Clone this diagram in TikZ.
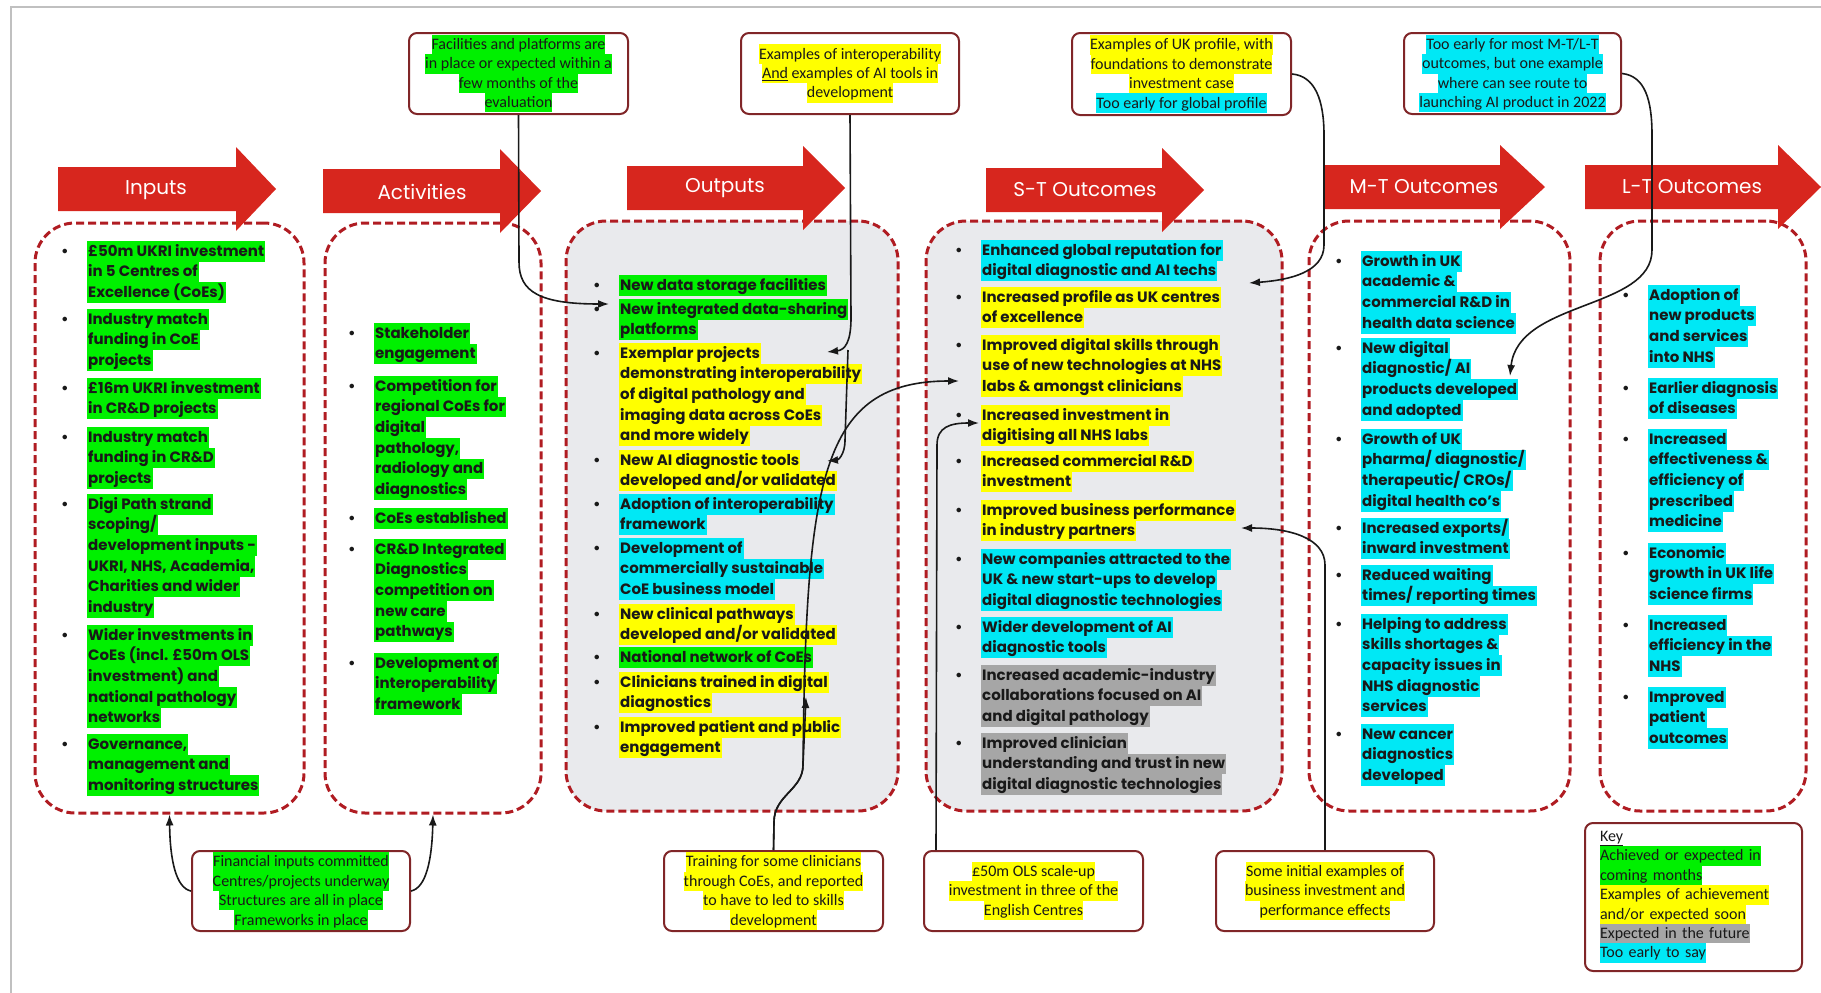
\documentclass[tikz,border=0pt]{standalone}
\usepackage{fontspec}
\setmainfont{Poppins}
\newfontfamily\cbfont{Carlito}
\usetikzlibrary{arrows.meta}

\definecolor{hlgreen}{RGB}{0,240,0}
\definecolor{hlyellow}{RGB}{255,255,0}
\definecolor{hlcyan}{RGB}{0,232,245}
\definecolor{hlgrey}{RGB}{166,166,166}
\definecolor{boxgrey}{RGB}{233,234,237}
\definecolor{dashred}{RGB}{176,28,34}
\definecolor{hdrred}{RGB}{215,38,30}
\definecolor{calred}{RGB}{128,38,40}
\definecolor{txt}{RGB}{25,25,25}
\definecolor{framegrey}{RGB}{192,192,192}

% highlighted lines: list text and callout text
\newcommand\hlb[2]{{\setlength\fboxsep{0pt}\colorbox{#1}{\rule[-5.6pt]{0pt}{20.7pt}\hspace{1pt}#2\hspace{1pt}}}}
\newcommand\hG{\hlb{hlgreen}}
\newcommand\hY{\hlb{hlyellow}}
\newcommand\hC{\hlb{hlcyan}}
\newcommand\hX{\hlb{hlgrey}}
\newcommand\hlc[2]{{\setlength\fboxsep{0pt}\colorbox{#1}{\rule[-4.8pt]{0pt}{19.4pt}#2}}}
\newcommand\cG{\hlc{hlgreen}}
\newcommand\cY{\hlc{hlyellow}}
\newcommand\cC{\hlc{hlcyan}}
\newcommand\cX{\hlc{hlgrey}}
\renewcommand\arraystretch{0}
\newcommand\bitem[1]{\makebox[26pt][l]{\textbullet}\begin{tabular}[t]{@{}l@{}}#1\end{tabular}}

\tikzset{
  dbox/.style={draw=dashred, line width=3pt, dash pattern=on 8pt off 4pt, rounded corners=40pt},
  item/.style={anchor=base west, inner sep=0pt, text=txt, font=\fontsize{15}{20.7}\selectfont\bfseries},
  hdr/.style={text=white, font=\fontsize{20}{24}\selectfont},
  callout/.style={draw=calred, line width=2pt, rounded corners=8pt, fill=white, align=center, inner sep=0pt,
    text=txt, font=\cbfont\fontsize{16}{19.4}\selectfont},
  conn/.style={->, line width=1.6pt, draw=txt}
}

\begin{document}
\begin{tikzpicture}[x=1pt,y=-1pt,>={Latex[length=11pt,width=8pt]}]
\useasboundingbox (0,0) rectangle (1821,993);
\draw[framegrey, line width=1.5pt] (11,993) -- (11,7) -- (1821,7);

% stage boxes
\node[dbox, minimum width=269pt, minimum height=590pt] (inbox) at (169.5,518) {};
\node[dbox, minimum width=216pt, minimum height=590pt] (acbox) at (433,518) {};
\node[dbox, fill=boxgrey, minimum width=332pt, minimum height=590pt] (opbox) at (732,516) {};
\node[dbox, fill=boxgrey, minimum width=356pt, minimum height=590pt] (stbox) at (1104,516) {};
\node[dbox, minimum width=261pt, minimum height=590pt] (mtbox) at (1439.5,516) {};
\node[dbox, minimum width=206pt, minimum height=590pt] (ltbox) at (1703,516) {};

% header arrows
\fill[hdrred] (58,167) -- (236,167) -- (236,147) -- (276,189) -- (236,231) -- (236,211) -- (58,211) -- cycle;
\fill[hdrred] (323,169) -- (500,169) -- (500,149) -- (541,191) -- (500,233) -- (500,213) -- (323,213) -- cycle;
\fill[hdrred] (627,166) -- (803,166) -- (803,146) -- (845,188) -- (803,230) -- (803,210) -- (627,210) -- cycle;
\fill[hdrred] (986,168) -- (1162,168) -- (1162,148) -- (1204,190) -- (1162,232) -- (1162,212) -- (986,212) -- cycle;
\fill[hdrred] (1324,165) -- (1500,165) -- (1500,145) -- (1545,187) -- (1500,229) -- (1500,209) -- (1324,209) -- cycle;
\fill[hdrred] (1585,165) -- (1778,165) -- (1778,145) -- (1821,187) -- (1778,229) -- (1778,209) -- (1585,209) -- cycle;
\node[hdr] (hin) at (156,190) {Inputs};
\node[hdr] (hac) at (422,192) {Activities};
\node[hdr] (hop) at (725,188) {Outputs};
\node[hdr] (hst) at (1085,190) {S-T Outcomes};
\node[hdr] (hmt) at (1424,187) {M-T Outcomes};
\node[hdr] (hlt) at (1692,187) {L-T Outcomes};

% inputs
\node[item] (in1) at (61,256) {\bitem{\hG{£50m UKRI investment}\\\hG{in 5 Centres of}\\\hG{Excellence (CoEs)}}};
\node[item] (in2) at (61,324) {\bitem{\hG{Industry match}\\\hG{funding in CoE}\\\hG{projects}}};
\node[item] (in3) at (61,393) {\bitem{\hG{£16m UKRI investment}\\\hG{in CR\&D projects}}};
\node[item] (in4) at (61,442) {\bitem{\hG{Industry match}\\\hG{funding in CR\&D}\\\hG{projects}}};
\node[item] (in5) at (61,509) {\bitem{\hG{Digi Path strand}\\\hG{scoping/}\\\hG{development inputs -}\\\hG{UKRI, NHS, Academia,}\\\hG{Charities and wider}\\\hG{industry}}};
\node[item] (in6) at (61,640) {\bitem{\hG{Wider investments in}\\\hG{CoEs (incl. £50m OLS}\\\hG{investment) and}\\\hG{national pathology}\\\hG{networks}}};
\node[item] (in7) at (61,749) {\bitem{\hG{Governance,}\\\hG{management and}\\\hG{monitoring structures}}};

% activities
\node[item] (ac1) at (348,338) {\bitem{\hG{Stakeholder}\\\hG{engagement}}};
\node[item] (ac2) at (348,391) {\bitem{\hG{Competition for}\\\hG{regional CoEs for}\\\hG{digital}\\\hG{pathology,}\\\hG{radiology and}\\\hG{diagnostics}}};
\node[item] (ac3) at (348,523) {\bitem{\hG{CoEs established}}};
\node[item] (ac4) at (348,554) {\bitem{\hG{CR\&D Integrated}\\\hG{Diagnostics}\\\hG{competition on}\\\hG{new care}\\\hG{pathways}}};
\node[item] (ac5) at (348,668) {\bitem{\hG{Development of}\\\hG{interoperability}\\\hG{framework}}};

% outputs
\node[item] (op1) at (593,290) {\bitem{\hG{New data storage facilities}}};
\node[item] (op2) at (593,314) {\bitem{\hG{New integrated data-sharing}\\\hG{platforms}}};
\node[item] (op3) at (593,358) {\bitem{\hY{Exemplar projects}\\\hY{demonstrating interoperability}\\\hY{of digital pathology and}\\\hY{imaging data across CoEs}\\\hY{and more widely}}};
\node[item] (op4) at (593,465) {\bitem{\hY{New AI diagnostic tools}\\\hY{developed and/or validated}}};
\node[item] (op5) at (593,509) {\bitem{\hC{Adoption of interoperability}\\\hC{framework}}};
\node[item] (op6) at (593,553) {\bitem{\hC{Development of}\\\hC{commercially sustainable}\\\hC{CoE business model}}};
\node[item] (op7) at (593,619) {\bitem{\hY{New clinical pathways}\\\hY{developed and/or validated}}};
\node[item] (op8) at (593,662) {\bitem{\hG{National network of CoEs}}};
\node[item] (op9) at (593,687) {\bitem{\hY{Clinicians trained in digital}\\\hY{diagnostics}}};
\node[item] (op10) at (593,732) {\bitem{\hY{Improved patient and public}\\\hY{engagement}}};

% short-term outcomes
\node[item] (st1) at (955,255) {\bitem{\hC{Enhanced global reputation for}\\\hC{digital diagnostic and AI techs}}};
\node[item] (st2) at (955,302) {\bitem{\hY{Increased profile as UK centres}\\\hY{of excellence}}};
\node[item] (st3) at (955,350) {\bitem{\hY{Improved digital skills through}\\\hY{use of new technologies at NHS}\\\hY{labs \& amongst clinicians}}};
\node[item] (st4) at (955,420) {\bitem{\hY{Increased investment in}\\\hY{digitising all NHS labs}}};
\node[item] (st5) at (955,466) {\bitem{\hY{Increased commercial R\&D}\\\hY{investment}}};
\node[item] (st6) at (955,515) {\bitem{\hY{Improved business performance}\\\hY{in industry partners}}};
\node[item] (st7) at (955,564) {\bitem{\hC{New companies attracted to the}\\\hC{UK \& new start-ups to develop}\\\hC{digital diagnostic technologies}}};
\node[item] (st8) at (955,632) {\bitem{\hC{Wider development of AI}\\\hC{diagnostic tools}}};
\node[item] (st9) at (955,680) {\bitem{\hX{Increased academic-industry}\\\hX{collaborations focused on AI}\\\hX{and digital pathology}}};
\node[item] (st10) at (955,748) {\bitem{\hX{Improved clinician}\\\hX{understanding and trust in new}\\\hX{digital diagnostic technologies}}};

% medium-term outcomes
\node[item] (mt1) at (1335,266) {\bitem{\hC{Growth in UK}\\\hC{academic \&}\\\hC{commercial R\&D in}\\\hC{health data science}}};
\node[item] (mt2) at (1335,353) {\bitem{\hC{New digital}\\\hC{diagnostic/ AI}\\\hC{products developed}\\\hC{and adopted}}};
\node[item] (mt3) at (1335,444) {\bitem{\hC{Growth of UK}\\\hC{pharma/ diagnostic/}\\\hC{therapeutic/ CROs/}\\\hC{digital health co's}}};
\node[item] (mt4) at (1335,533) {\bitem{\hC{Increased exports/}\\\hC{inward investment}}};
\node[item] (mt5) at (1335,580) {\bitem{\hC{Reduced waiting}\\\hC{times/ reporting times}}};
\node[item] (mt6) at (1335,629) {\bitem{\hC{Helping to address}\\\hC{skills shortages \&}\\\hC{capacity issues in}\\\hC{NHS diagnostic}\\\hC{services}}};
\node[item] (mt7) at (1335,739) {\bitem{\hC{New cancer}\\\hC{diagnostics}\\\hC{developed}}};

% long-term outcomes
\node[item] (lt1) at (1622,300) {\bitem{\hC{Adoption of}\\\hC{new products}\\\hC{and services}\\\hC{into NHS}}};
\node[item] (lt2) at (1622,393) {\bitem{\hC{Earlier diagnosis}\\\hC{of diseases}}};
\node[item] (lt3) at (1622,444) {\bitem{\hC{Increased}\\\hC{effectiveness \&}\\\hC{efficiency of}\\\hC{prescribed}\\\hC{medicine}}};
\node[item] (lt4) at (1622,558) {\bitem{\hC{Economic}\\\hC{growth in UK life}\\\hC{science firms}}};
\node[item] (lt5) at (1622,630) {\bitem{\hC{Increased}\\\hC{efficiency in the}\\\hC{NHS}}};
\node[item] (lt6) at (1622,702) {\bitem{\hC{Improved}\\\hC{patient}\\\hC{outcomes}}};

% evidence callouts
\node[callout, minimum width=219pt, minimum height=81pt] (cfac) at (518.5,73.5) {\cG{Facilities and platforms are}\\\cG{in place or expected within a}\\\cG{few months of the}\\\cG{evaluation}};
\node[callout, minimum width=218pt, minimum height=81pt] (cint) at (850,73.5) {\cY{Examples of interoperability}\\\cY{\underline{And} examples of AI tools in}\\\cY{development}};
\node[callout, minimum width=219pt, minimum height=82pt] (cprof) at (1181.5,74) {\cY{Examples of UK profile, with}\\\cY{foundations to demonstrate}\\\cY{investment case}\\\cC{Too early for global profile}};
\node[callout, minimum width=217pt, minimum height=81pt] (cearly) at (1512.5,73.5) {\cC{Too early for most M-T/L-T}\\\cC{outcomes, but one example}\\\cC{where can see route to}\\\cC{launching AI product in 2022}};
\node[callout, minimum width=218pt, minimum height=80pt] (cfin) at (301,891) {\cG{Financial inputs committed}\\\cG{Centres/projects underway}\\\cG{Structures are all in place}\\\cG{Frameworks in place}};
\node[callout, minimum width=219pt, minimum height=80pt] (ctrain) at (773.5,891) {\cY{Training for some clinicians}\\\cY{through CoEs, and reported}\\\cY{to have to led to skills}\\\cY{development}};
\node[callout, minimum width=219pt, minimum height=80pt] (cols) at (1033.5,891) {\cY{£50m OLS scale-up}\\\cY{investment in three of the}\\\cY{English Centres}};
\node[callout, minimum width=218pt, minimum height=80pt] (cbus) at (1325,891) {\cY{Some initial examples of}\\\cY{business investment and}\\\cY{performance effects}};
\node[callout, align=left, text width=187pt, minimum width=217pt, minimum height=148pt] (ckey) at (1693.5,897) {\underline{Key}\\\cG{Achieved or expected in}\\\cG{coming months}\\\cY{Examples of achievement}\\\cY{and/or expected soon}\\\cX{Expected in the future}\\\cC{Too early to say}};

% arrow targets
\coordinate (tdata) at (609,304);
\coordinate (texem) at (827,352);
\coordinate (knot) at (848,350);
\coordinate (tai) at (827,461);
\coordinate (tclin) at (806,697);
\coordinate (tskill) at (959,381);
\coordinate (tinv) at (979,423);
\coordinate (tprof) at (1249,283);
\coordinate (tbus) at (1241,528);
\coordinate (tprod) at (1510,376);

\draw[conn] (cfac.south) -- (519,262) .. controls (519,292) and (540,304) .. (tdata);
\draw[conn] (cint.south) -- (851,318) .. controls (851,342) and (845,350) .. (texem);
\draw[conn] (knot) -- (845,440) .. controls (845,455) and (838,460) .. (tai);
\draw[conn] (ctrain.north) -- (774,822) .. controls (774,795) and (803,790) .. (803,765) -- (tclin);
\draw[conn] (ctrain.north) -- (774,822) .. controls (774,795) and (803,790) .. (803,765) .. controls (806,480) and (820,381) .. (tskill);
\draw[conn] ([xshift=13pt]cols.north west) -- (937,445) .. controls (937,427) and (950,423) .. (tinv);
\draw[conn] (cprof.east) .. controls (1315,76) and (1324,100) .. (1324,135) -- (1324,245) .. controls (1324,272) and (1290,280) .. (tprof);
\draw[conn] (cbus.north) -- (1325,565) .. controls (1325,538) and (1290,528) .. (tbus);
\draw[conn] (cearly.east) .. controls (1645,76) and (1652,100) .. (1652,135) -- (1652,250) .. controls (1652,310) and (1518,300) .. (tprod);
\draw[conn] (cfin.west) .. controls (176,888) and (170,860) .. (inbox.south);
\draw[conn] (cfin.east) .. controls (426,888) and (432,860) .. (acbox.south);
\end{tikzpicture}
\end{document}
